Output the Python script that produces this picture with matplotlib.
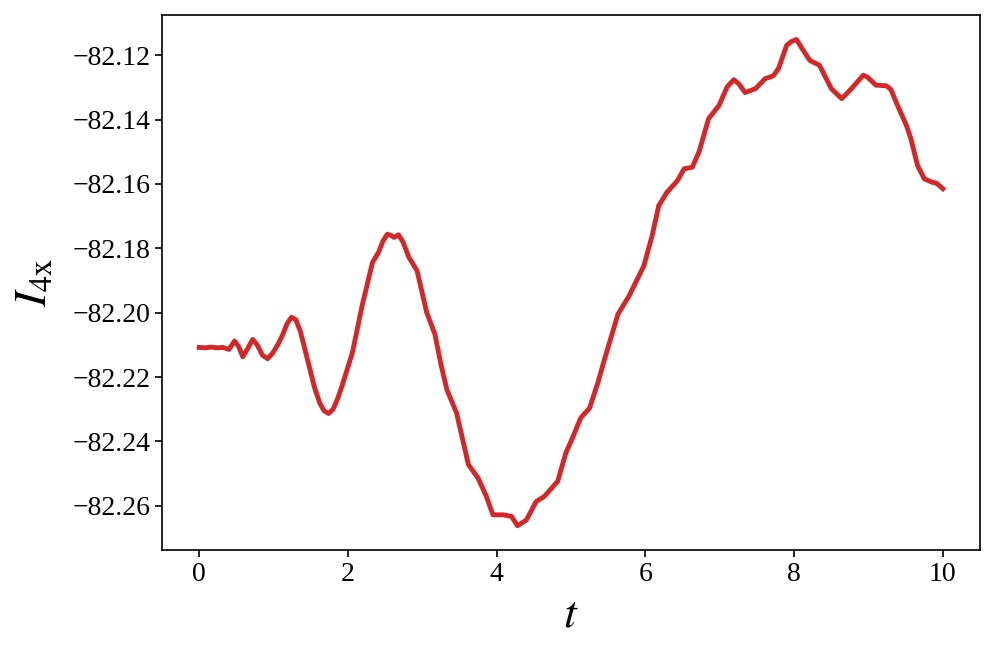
import matplotlib
matplotlib.use("Agg")
import matplotlib.pyplot as plt
import numpy as np

plt.rcParams['font.family'] = ['Liberation Serif', 'DejaVu Serif']
plt.rcParams['mathtext.fontset'] = 'stix'

# values
t = [0.00, 0.08, 0.16, 0.24, 0.32, 0.40, 0.475, 0.53, 0.586, 0.65, 0.72,
     0.78, 0.85, 0.92, 0.99, 1.06, 1.12, 1.18, 1.24, 1.30, 1.36, 1.45,
     1.55, 1.62, 1.68, 1.74, 1.80, 1.86, 1.92, 2.06, 2.19, 2.33, 2.41,
     2.47, 2.53, 2.58, 2.62, 2.68, 2.74, 2.82, 2.93, 3.06, 3.17, 3.25,
     3.33, 3.46, 3.62, 3.75, 3.86, 3.95, 4.09, 4.20, 4.28, 4.40, 4.53,
     4.64, 4.82, 4.93, 5.02, 5.13, 5.25, 5.36, 5.45, 5.63, 5.78, 5.98,
     6.09, 6.18, 6.29, 6.43, 6.52, 6.63, 6.72, 6.85, 6.99, 7.10, 7.19,
     7.26, 7.34, 7.48, 7.61, 7.72, 7.79, 7.90, 7.96, 8.03, 8.12, 8.21,
     8.34, 8.50, 8.64, 8.75, 8.93, 8.99, 9.10, 9.24, 9.30, 9.39, 9.51,
     9.57, 9.66, 9.75, 9.86, 9.91, 10.00]
i4x = [-82.2108, -82.2109, -82.2107, -82.2109, -82.2108, -82.2114, -82.2088,
       -82.2105, -82.2137, -82.2112, -82.2083, -82.2100, -82.2132, -82.2143,
       -82.2125, -82.2098, -82.2070, -82.2035, -82.2014, -82.2022, -82.2058,
       -82.2140, -82.2232, -82.2280, -82.2305, -82.2313, -82.2300, -82.2268,
       -82.2228, -82.2124, -82.1979, -82.1844, -82.1813, -82.1778, -82.1756,
       -82.1760, -82.1766, -82.1758, -82.1780, -82.1828, -82.1870, -82.2000,
       -82.2067, -82.2160, -82.2239, -82.2311, -82.2472, -82.2514, -82.2570,
       -82.2628, -82.2628, -82.2633, -82.2662, -82.2644, -82.2587, -82.2571,
       -82.2524, -82.2436, -82.2389, -82.2327, -82.2296, -82.2218, -82.2145,
       -82.2005, -82.1948, -82.1854, -82.1761, -82.1667, -82.1626, -82.1590,
       -82.1553, -82.1548, -82.1501, -82.1397, -82.1356, -82.1298, -82.1276,
       -82.1290, -82.1316, -82.1304, -82.1273, -82.1264, -82.1241, -82.1169,
       -82.1158, -82.1151, -82.1184, -82.1216, -82.1231, -82.1304, -82.1335,
       -82.1309, -82.1262, -82.1269, -82.1293, -82.1295, -82.1306, -82.1356,
       -82.1418, -82.1460, -82.1543, -82.1584, -82.1595, -82.1597, -82.1615]

fig = plt.figure(figsize=(9.97, 6.58), dpi=100)
ax = fig.add_axes([0.1625, 0.164, 0.8205, 0.813])
ax.plot(t, i4x, color='#d62728', linewidth=3.5, solid_joinstyle='round')

ax.set_xlabel(r'$t$', fontsize=33, labelpad=5)
ax.set_ylabel(r'$I_{4\mathrm{x}}$', fontsize=33, labelpad=12)
ax.tick_params(labelsize=20, width=1.2, length=5)
for s in ax.spines.values():
    s.set_linewidth(1.2)

fig.savefig('out.png', dpi=100)
